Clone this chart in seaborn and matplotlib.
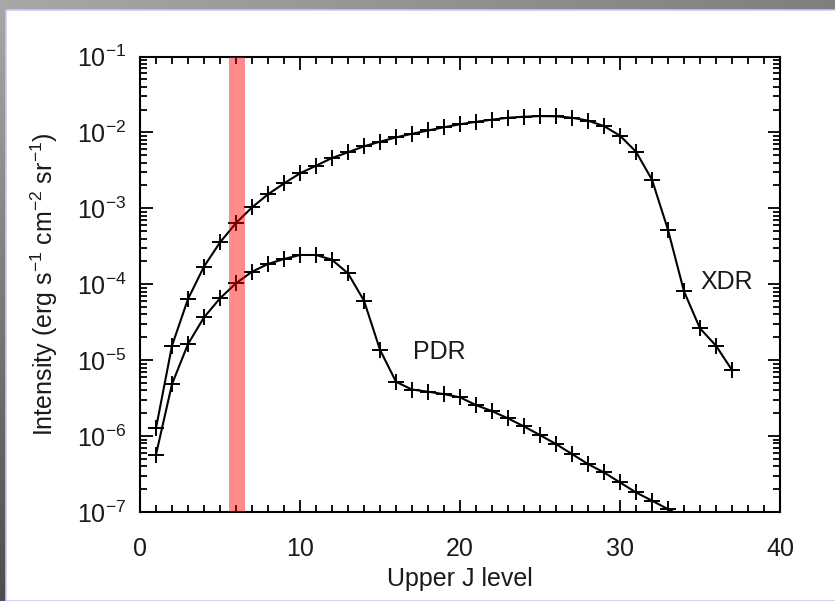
import numpy as np
import pandas as pd
import matplotlib
matplotlib.use("Agg")
import matplotlib.pyplot as plt
import seaborn as sns
from matplotlib.patches import Rectangle
from matplotlib.ticker import MultipleLocator, LogLocator, NullFormatter

# Upper J level and line intensities (erg s^-1 cm^-2 sr^-1)
j_xdr = list(range(1, 38))
xdr = [1.27e-6, 1.55e-5, 6.4e-5, 1.71e-4, 3.56e-4, 6.4e-4, 1.03e-3, 1.53e-3,
       2.13e-3, 2.89e-3, 3.64e-3, 4.6e-3, 5.47e-3, 6.56e-3, 7.54e-3, 8.6e-3,
       9.6e-3, 1.06e-2, 1.17e-2, 1.28e-2, 1.38e-2, 1.47e-2, 1.56e-2, 1.61e-2,
       1.64e-2, 1.63e-2, 1.56e-2, 1.43e-2, 1.21e-2, 9.06e-3, 5.57e-3, 2.38e-3,
       5.2e-4, 8.05e-5, 2.62e-5, 1.55e-5, 7.4e-6]

j_pdr = list(range(1, 35))
pdr = [5.7e-7, 4.84e-6, 1.63e-5, 3.66e-5, 6.52e-5, 1.03e-4, 1.46e-4, 1.85e-4,
       2.15e-4, 2.43e-4, 2.43e-4, 2.1e-4, 1.39e-4, 6.07e-5, 1.37e-5, 5.19e-6,
       4.1e-6, 3.84e-6, 3.57e-6, 3.24e-6, 2.56e-6, 2.13e-6, 1.71e-6, 1.34e-6,
       1.03e-6, 7.85e-7, 5.8e-7, 4.28e-7, 3.32e-7, 2.45e-7, 1.81e-7, 1.41e-7,
       1.09e-7, 8.5e-8]

band = (5.55, 6.55)

sns.set_style("ticks")
plt.rcParams["font.family"] = ["Liberation Sans", "DejaVu Sans"]
plt.rcParams["mathtext.fontset"] = "custom"
plt.rcParams["mathtext.rm"] = "Liberation Sans"
plt.rcParams["mathtext.it"] = "Liberation Sans"
plt.rcParams["text.color"] = "#1a1a1a"
plt.rcParams["axes.labelcolor"] = "#1a1a1a"
plt.rcParams["xtick.labelcolor"] = "#1a1a1a"
plt.rcParams["ytick.labelcolor"] = "#1a1a1a"

fig = plt.figure(figsize=(8.35, 6.01), dpi=100)

# slide-like gray frame
H, W = 601, 835
yy, xx = np.mgrid[0:H, 0:W]
g = 0.66 - 0.16 * xx / W - 0.36 * yy / H
bg = np.dstack([g, g, g])
fig.figimage(bg, xo=0, yo=0, zorder=0)
fig.add_artist(Rectangle((6 / W, 0), 1, 1 - 10 / H, transform=fig.transFigure,
                         facecolor="white", edgecolor="#c8c8ff", lw=1.2, zorder=1))

ax = fig.add_axes([140 / W, 1 - 512 / H, 640 / W, 455.5 / H])
ax.set_facecolor("white")
ax.set_zorder(2)

df_x = pd.DataFrame({"J": j_xdr, "I": xdr})
df_p = pd.DataFrame({"J": j_pdr, "I": pdr})
for d in (df_x, df_p):
    sns.lineplot(data=d, x="J", y="I", ax=ax, color="black", lw=1.5,
                 marker="+", markersize=11, markeredgewidth=1.4,
                 markeredgecolor="black", zorder=3)

ax.axvspan(band[0], band[1], color="red", alpha=0.45, lw=0, zorder=4)

ax.set_yscale("log")
ax.set_xlim(0, 40)
ax.set_ylim(1e-7, 1e-1)

ax.xaxis.set_major_locator(MultipleLocator(10))
ax.xaxis.set_minor_locator(MultipleLocator(1))
ax.yaxis.set_major_locator(LogLocator(base=10, numticks=20))
ax.yaxis.set_minor_locator(LogLocator(base=10, subs=np.arange(2, 10), numticks=100))
ax.yaxis.set_minor_formatter(NullFormatter())

ax.tick_params(which="both", direction="in", top=True, right=True,
               color="black", width=1.3)
ax.tick_params(which="major", length=9, labelsize=18)
ax.tick_params(axis="x", which="major", pad=18)
ax.tick_params(axis="y", which="major", pad=10)
ax.tick_params(which="minor", length=5)
for s in ax.spines.values():
    s.set_linewidth(1.5)
    s.set_color("black")

ax.text(35.0, 1.07e-4, "XDR", fontsize=18, va="center", ha="left")
ax.text(17.06, 1.28e-5, "PDR", fontsize=18, va="center", ha="left")

ax.set_xlabel("Upper J level", fontsize=18, labelpad=4)
ax.set_ylabel("Intensity (erg s$^{-1}$ cm$^{-2}$ sr$^{-1}$)", fontsize=18, labelpad=12)

fig.savefig("out.png", dpi=100)
